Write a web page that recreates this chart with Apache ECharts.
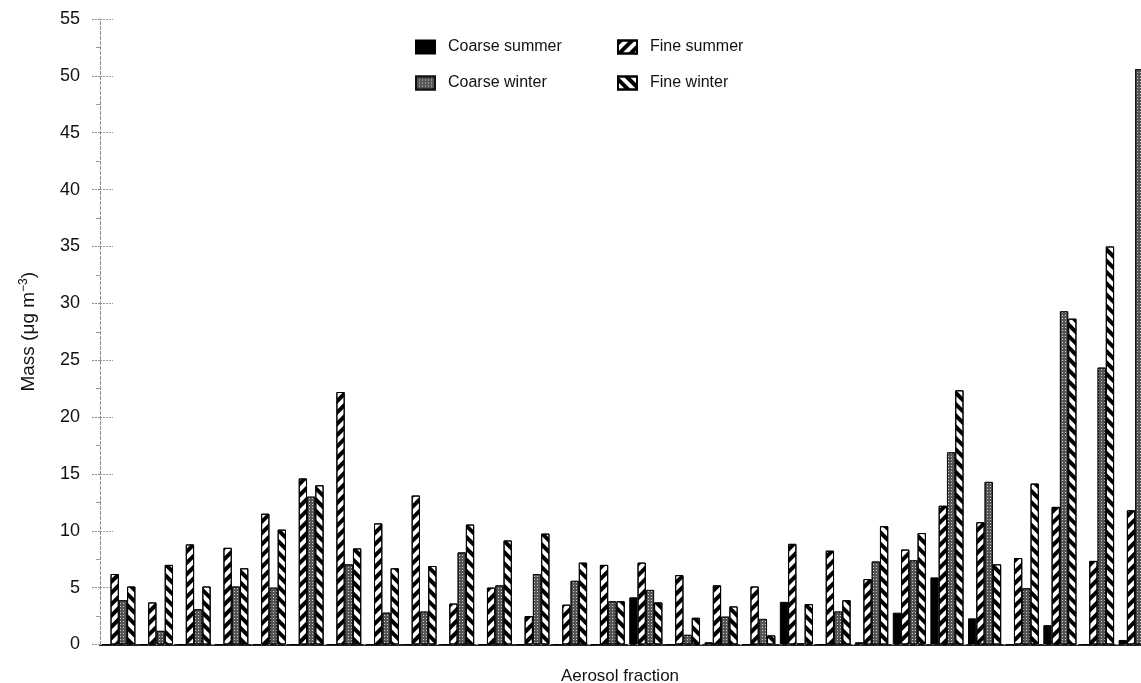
<!DOCTYPE html>
<html>
<head>
<meta charset="utf-8">
<title>Aerosol mass by fraction</title>
<script src="https://cdn.jsdelivr.net/npm/echarts@6/dist/echarts.min.js"></script>
<style>
  html, body { margin: 0; padding: 0; background: #fff; overflow: hidden; }
  /* the plot runs slightly past the right edge of the window */
  #chart { width: 1154px; height: 683px; }
</style>
</head>
<body>
<div id="chart"></div>
<script>
// 28 aerosol fractions (unlabelled on the axis)
const fractions = Array.from({ length: 28 }, (_, i) => 'F' + (i + 1));

// Mass, µg m-3
const coarseSummer = [0, 0, 0, 0, 0, 0, 0, 0, 0, 0, 0, 0, 0, 0,
  4.15, 0, 0.2, 0, 3.75, 0, 0.2, 2.8, 5.9, 2.3, 0, 1.7, 0, 0.4];
const fineSummer = [6.2, 3.7, 8.8, 8.5, 11.5, 14.6, 22.2, 10.65, 13.1, 3.6, 5.0, 2.5, 3.5, 7.0,
  7.2, 6.1, 5.2, 5.1, 8.85, 8.25, 5.75, 8.35, 12.2, 10.75, 7.6, 12.1, 7.35, 11.8];
const coarseWinter = [3.9, 1.2, 3.1, 5.1, 5.0, 13.0, 7.05, 2.8, 2.9, 8.1, 5.2, 6.2, 5.6, 3.8,
  4.8, 0.85, 2.45, 2.25, 0.1, 2.9, 7.3, 7.4, 16.9, 14.3, 4.95, 29.3, 24.35, 50.6];
const fineWinter = [5.1, 7.0, 5.1, 6.7, 10.1, 14.0, 8.45, 6.7, 6.9, 10.55, 9.15, 9.75, 7.2, 3.8,
  3.7, 2.35, 3.35, 0.8, 3.55, 3.9, 10.4, 9.8, 22.35, 7.05, 14.15, 28.65, 35.0, null];

const yTicks = { min: 0, max: 55, interval: 5 };

const FONT = '"Liberation Sans", Arial, Helvetica, sans-serif';

const hatch = (rot) => ({
  symbol: 'rect',
  symbolSize: 1,
  color: '#000',
  dashArrayX: [1, 0],
  dashArrayY: [4, 3.2],
  rotation: rot
});

const stipple = {
  symbol: 'rect',
  symbolSize: 1,
  color: '#cfcfcf',
  dashArrayX: [1, 2],
  dashArrayY: [1, 2],
  rotation: 0
};

const styles = {
  'Coarse summer': { color: '#000', borderColor: '#000', borderWidth: 1 },
  'Fine summer': { color: '#fff', borderColor: '#000', borderWidth: 1, decal: hatch(-Math.PI / 4) },
  'Coarse winter': { color: '#555', borderColor: '#111', borderWidth: 1, decal: stipple },
  'Fine winter': { color: '#fff', borderColor: '#000', borderWidth: 1, decal: hatch(Math.PI / 4) }
};

const seriesData = [
  ['Coarse summer', coarseSummer],
  ['Fine summer', fineSummer],
  ['Coarse winter', coarseWinter],
  ['Fine winter', fineWinter]
];

const chart = echarts.init(document.getElementById('chart'), null, { renderer: 'canvas' });

const legendBase = {
  orient: 'vertical',
  top: 39,
  padding: 0,
  itemWidth: 19,
  itemHeight: 13,
  itemGap: 20,
  icon: 'rect',
  selectedMode: false,
  textStyle: { fontFamily: FONT, fontSize: 16, color: '#111', padding: [0, 0, 0, 8] }
};

chart.setOption({
  backgroundColor: '#fff',
  animation: false,
  legend: [
    Object.assign({ left: 415, data: ['Coarse summer', 'Coarse winter'] }, legendBase),
    Object.assign({ left: 617, data: ['Fine summer', 'Fine winter'] }, legendBase)
  ],
  grid: { left: 100, right: 0, top: 19, bottom: 38.5, outerBoundsMode: 'none' },
  xAxis: [
    {
      type: 'category',
      data: fractions,
      name: 'Aerosol fraction',
      nameLocation: 'middle',
      nameGap: 23,
      nameTextStyle: { fontFamily: FONT, fontSize: 17, color: '#111', padding: [0, 14, 0, 0] },
      axisLine: { show: true, lineStyle: { color: '#222', width: 2 } },
      axisTick: { show: false },
      axisLabel: { show: false },
      splitLine: { show: false }
    },
    {
      // faint dotted frame along the top
      type: 'category',
      data: fractions,
      position: 'top',
      axisLine: { show: true, lineStyle: { color: '#aaa', width: 1, type: [2, 6] } },
      axisTick: { show: false },
      axisLabel: { show: false },
      splitLine: { show: false }
    }
  ],
  yAxis: [
    {
      type: 'value',
      min: yTicks.min,
      max: yTicks.max,
      interval: yTicks.interval,
      name: '{t|Mass (μg m}{s|−3}{t|)}',
      nameLocation: 'middle',
      nameGap: 60,
      nameRotate: 90,
      nameTextStyle: {
        rich: {
          t: { fontFamily: FONT, fontSize: 19, color: '#111', lineHeight: 22 },
          s: { fontFamily: FONT, fontSize: 12, color: '#111', verticalAlign: 'top', lineHeight: 22 }
        }
      },
      axisLine: { show: true, lineStyle: { color: '#8a8a8a', width: 1, type: [3, 2] } },
      axisTick: { show: true, inside: false, length: 9, lineStyle: { color: '#8a8a8a', type: [2, 1] } },
      minorTick: { show: true, splitNumber: 2, length: 4, lineStyle: { color: '#999' } },
      axisLabel: { fontFamily: FONT, fontSize: 18, color: '#111', margin: 20 },
      splitLine: { show: false }
    },
    {
      // inward tick marks on the same left axis
      type: 'value',
      position: 'left',
      min: yTicks.min,
      max: yTicks.max,
      interval: yTicks.interval,
      axisLine: { show: false },
      axisTick: { show: true, inside: true, length: 13, lineStyle: { color: '#9a9a9a', type: [2, 1] } },
      axisLabel: { show: false },
      splitLine: { show: false }
    }
  ],
  series: seriesData.map(([name, values]) => ({
    name,
    type: 'bar',
    data: values,
    barGap: '0%',
    barCategoryGap: '12%',
    itemStyle: styles[name],
    emphasis: { disabled: true }
  }))
});
</script>
</body>
</html>
